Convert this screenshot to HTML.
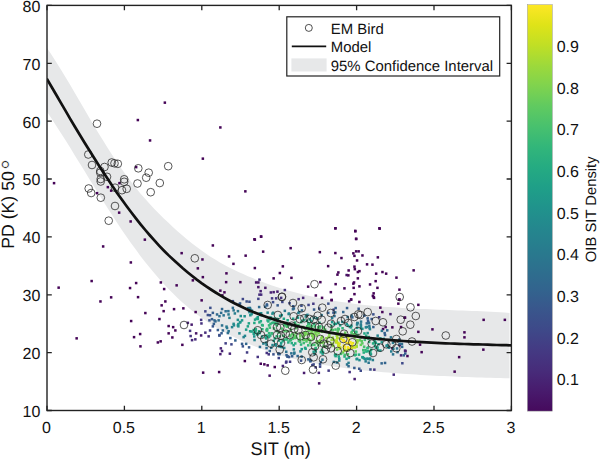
<!DOCTYPE html>
<html><head><meta charset="utf-8"><title>PD vs SIT</title>
<style>
html,body{margin:0;padding:0;background:#fff}
svg{display:block}
text{font-family:"Liberation Sans",Arial,sans-serif;fill:#111;text-rendering:geometricPrecision}
.tk{font-size:16px}
.cb{font-size:16px}
.lg{font-size:14.9px}
.ax{font-size:18.2px}
</style></head><body>
<svg width="600" height="459" viewBox="0 0 600 459">
<defs><linearGradient id="vg" x1="0" y1="0" x2="0" y2="1"><stop offset="0.000" stop-color="#fde725"/><stop offset="0.050" stop-color="#dfe318"/><stop offset="0.100" stop-color="#c0df25"/><stop offset="0.150" stop-color="#9dd93b"/><stop offset="0.200" stop-color="#7fd34e"/><stop offset="0.250" stop-color="#60ca60"/><stop offset="0.300" stop-color="#48c16e"/><stop offset="0.350" stop-color="#32b67a"/><stop offset="0.400" stop-color="#25ab82"/><stop offset="0.450" stop-color="#1f9f88"/><stop offset="0.500" stop-color="#20938c"/><stop offset="0.550" stop-color="#24878e"/><stop offset="0.600" stop-color="#287c8e"/><stop offset="0.650" stop-color="#2d708e"/><stop offset="0.700" stop-color="#32648e"/><stop offset="0.750" stop-color="#39568c"/><stop offset="0.800" stop-color="#3e4989"/><stop offset="0.850" stop-color="#443a83"/><stop offset="0.900" stop-color="#472c7a"/><stop offset="0.950" stop-color="#481b6d"/><stop offset="1.000" stop-color="#460a5d"/></linearGradient>
<clipPath id="cp"><rect x="47.0" y="5.4" width="464.4" height="405.1"/></clipPath></defs>
<rect width="600" height="459" fill="#fff"/>
<g clip-path="url(#cp)">
<path d="M47.0,47.9 L51.7,54.9 L56.3,62.2 L61.0,69.7 L65.7,77.4 L70.4,85.3 L75.0,93.2 L79.7,101.3 L84.4,109.3 L89.0,117.3 L93.7,125.2 L98.4,133.0 L103.1,140.6 L107.7,148.1 L112.4,155.3 L117.1,162.3 L121.7,169.0 L126.4,175.5 L131.1,181.7 L135.8,187.7 L140.4,193.4 L145.1,198.8 L149.8,204.0 L154.4,208.9 L159.1,213.7 L163.8,218.4 L168.5,222.8 L173.1,227.2 L177.8,231.4 L182.5,235.5 L187.2,239.4 L191.8,243.2 L196.5,246.8 L201.2,250.3 L205.8,253.6 L210.5,256.7 L215.2,259.6 L219.9,262.4 L224.5,265.0 L229.2,267.4 L233.9,269.8 L238.5,272.0 L243.2,274.1 L247.9,276.2 L252.6,278.1 L257.2,280.0 L261.9,281.8 L266.6,283.6 L271.2,285.2 L275.9,286.8 L280.6,288.3 L285.3,289.7 L289.9,291.0 L294.6,292.3 L299.3,293.6 L303.9,294.7 L308.6,295.8 L313.3,296.8 L318.0,297.8 L322.6,298.8 L327.3,299.6 L332.0,300.5 L336.6,301.2 L341.3,301.9 L346.0,302.6 L350.7,303.3 L355.3,303.9 L360.0,304.4 L364.7,304.9 L369.3,305.4 L374.0,305.9 L378.7,306.3 L383.4,306.7 L388.0,307.0 L392.7,307.3 L397.4,307.6 L402.1,307.9 L406.7,308.2 L411.4,308.4 L416.1,308.7 L420.7,308.9 L425.4,309.1 L430.1,309.3 L434.8,309.5 L439.4,309.7 L444.1,309.8 L448.8,310.0 L453.4,310.2 L458.1,310.4 L462.8,310.5 L467.5,310.7 L472.1,310.9 L476.8,311.1 L481.5,311.3 L486.1,311.5 L490.8,311.8 L495.5,312.0 L500.2,312.3 L504.8,312.6 L509.5,312.9 L509.5,378.3 L504.8,378.2 L500.2,378.1 L495.5,377.9 L490.8,377.8 L486.1,377.7 L481.5,377.5 L476.8,377.4 L472.1,377.2 L467.5,377.0 L462.8,376.9 L458.1,376.7 L453.4,376.5 L448.8,376.3 L444.1,376.1 L439.4,375.9 L434.8,375.7 L430.1,375.4 L425.4,375.2 L420.7,374.9 L416.1,374.6 L411.4,374.3 L406.7,374.0 L402.1,373.7 L397.4,373.3 L392.7,373.0 L388.0,372.6 L383.4,372.2 L378.7,371.8 L374.0,371.3 L369.3,370.9 L364.7,370.4 L360.0,369.9 L355.3,369.4 L350.7,368.8 L346.0,368.3 L341.3,367.6 L336.6,367.0 L332.0,366.3 L327.3,365.6 L322.6,364.8 L318.0,363.9 L313.3,363.1 L308.6,362.1 L303.9,361.1 L299.3,360.1 L294.6,358.9 L289.9,357.7 L285.3,356.5 L280.6,355.2 L275.9,353.7 L271.2,352.3 L266.6,350.7 L261.9,349.0 L257.2,347.3 L252.6,345.4 L247.9,343.5 L243.2,341.5 L238.5,339.3 L233.9,337.1 L229.2,334.7 L224.5,332.3 L219.9,329.6 L215.2,326.9 L210.5,323.9 L205.8,320.8 L201.2,317.6 L196.5,314.1 L191.8,310.4 L187.2,306.6 L182.5,302.5 L177.8,298.2 L173.1,293.6 L168.5,288.9 L163.8,283.9 L159.1,278.7 L154.4,273.3 L149.8,267.7 L145.1,261.9 L140.4,255.9 L135.8,249.6 L131.1,243.2 L126.4,236.6 L121.7,229.7 L117.1,222.7 L112.4,215.6 L107.7,208.3 L103.1,201.0 L98.4,193.5 L93.7,186.0 L89.0,178.4 L84.4,170.8 L79.7,163.2 L75.0,155.7 L70.4,148.1 L65.7,140.6 L61.0,133.2 L56.3,125.9 L51.7,118.7 L47.0,111.7Z" fill="#e7e8e9"/>
<g><rect x="136.6" y="118.8" width="2.5" height="2.5" fill="#450457"/><rect x="134.9" y="165.9" width="2.5" height="2.5" fill="#450457"/><rect x="163.6" y="101.4" width="2.5" height="2.5" fill="#450457"/><rect x="219.1" y="126.2" width="2.5" height="2.5" fill="#450457"/><rect x="148.8" y="139.2" width="2.5" height="2.5" fill="#450457"/><rect x="201.6" y="157.4" width="2.5" height="2.5" fill="#450457"/><rect x="334.2" y="227.0" width="2.5" height="2.5" fill="#450457"/><rect x="354.0" y="229.6" width="2.5" height="2.5" fill="#450457"/><rect x="378.2" y="227.0" width="2.5" height="2.5" fill="#450457"/><rect x="354.9" y="237.5" width="2.5" height="2.5" fill="#450457"/><rect x="259.8" y="235.3" width="2.5" height="2.5" fill="#450457"/><rect x="253.2" y="238.0" width="2.5" height="2.5" fill="#450457"/><rect x="52.8" y="181.9" width="2.5" height="2.5" fill="#450457"/><rect x="106.6" y="185.9" width="2.5" height="2.5" fill="#450457"/><rect x="109.9" y="189.4" width="2.5" height="2.5" fill="#450457"/><rect x="95.8" y="191.9" width="2.5" height="2.5" fill="#450457"/><rect x="118.2" y="181.9" width="2.5" height="2.5" fill="#450457"/><rect x="117.9" y="211.4" width="2.5" height="2.5" fill="#450457"/><rect x="129.4" y="220.2" width="2.5" height="2.5" fill="#450457"/><rect x="143.6" y="238.4" width="2.5" height="2.5" fill="#450457"/><rect x="101.9" y="245.2" width="2.5" height="2.5" fill="#450457"/><rect x="244.1" y="190.1" width="2.5" height="2.5" fill="#450457"/><rect x="211.6" y="244.2" width="2.5" height="2.5" fill="#450457"/><rect x="129.6" y="261.2" width="2.5" height="2.5" fill="#450457"/><rect x="90.4" y="279.8" width="2.5" height="2.5" fill="#450457"/><rect x="57.4" y="286.4" width="2.5" height="2.5" fill="#450457"/><rect x="134.9" y="281.8" width="2.5" height="2.5" fill="#450457"/><rect x="128.8" y="286.8" width="2.5" height="2.5" fill="#450457"/><rect x="109.9" y="296.1" width="2.5" height="2.5" fill="#450457"/><rect x="99.2" y="300.2" width="2.5" height="2.5" fill="#450457"/><rect x="136.8" y="295.9" width="2.5" height="2.5" fill="#450457"/><rect x="144.1" y="311.8" width="2.5" height="2.5" fill="#450457"/><rect x="129.9" y="319.8" width="2.5" height="2.5" fill="#450457"/><rect x="180.4" y="251.9" width="2.5" height="2.5" fill="#450457"/><rect x="201.2" y="258.2" width="2.5" height="2.5" fill="#450457"/><rect x="196.6" y="267.1" width="2.5" height="2.5" fill="#450457"/><rect x="201.6" y="275.9" width="2.5" height="2.5" fill="#450457"/><rect x="191.6" y="279.1" width="2.5" height="2.5" fill="#450457"/><rect x="175.4" y="284.1" width="2.5" height="2.5" fill="#450457"/><rect x="159.6" y="281.2" width="2.5" height="2.5" fill="#450457"/><rect x="162.9" y="287.8" width="2.5" height="2.5" fill="#450457"/><rect x="164.1" y="300.2" width="2.5" height="2.5" fill="#450457"/><rect x="160.4" y="304.1" width="2.5" height="2.5" fill="#450457"/><rect x="162.4" y="309.9" width="2.5" height="2.5" fill="#450457"/><rect x="172.8" y="307.9" width="2.5" height="2.5" fill="#450457"/><rect x="182.1" y="307.1" width="2.5" height="2.5" fill="#450457"/><rect x="194.4" y="310.8" width="2.5" height="2.5" fill="#450457"/><rect x="200.4" y="299.1" width="2.5" height="2.5" fill="#450457"/><rect x="158.2" y="317.8" width="2.5" height="2.5" fill="#450457"/><rect x="227.8" y="255.2" width="2.5" height="2.5" fill="#450457"/><rect x="244.4" y="254.4" width="2.5" height="2.5" fill="#450457"/><rect x="232.2" y="262.6" width="2.5" height="2.5" fill="#450457"/><rect x="225.2" y="272.1" width="2.5" height="2.5" fill="#450457"/><rect x="224.9" y="280.9" width="2.5" height="2.5" fill="#450457"/><rect x="239.1" y="280.9" width="2.5" height="2.5" fill="#450457"/><rect x="219.1" y="289.4" width="2.5" height="2.5" fill="#450457"/><rect x="223.2" y="291.1" width="2.5" height="2.5" fill="#450457"/><rect x="221.1" y="294.1" width="2.5" height="2.5" fill="#450457"/><rect x="75.4" y="337.1" width="2.5" height="2.5" fill="#450457"/><rect x="132.8" y="335.9" width="2.5" height="2.5" fill="#450457"/><rect x="138.9" y="332.8" width="2.5" height="2.5" fill="#450457"/><rect x="139.2" y="345.1" width="2.5" height="2.5" fill="#450457"/><rect x="167.4" y="324.8" width="2.5" height="2.5" fill="#450457"/><rect x="171.9" y="325.9" width="2.5" height="2.5" fill="#450457"/><rect x="174.1" y="329.2" width="2.5" height="2.5" fill="#450457"/><rect x="167.4" y="332.1" width="2.5" height="2.5" fill="#450457"/><rect x="171.1" y="336.2" width="2.5" height="2.5" fill="#450457"/><rect x="159.4" y="340.1" width="2.5" height="2.5" fill="#450457"/><rect x="156.6" y="341.2" width="2.5" height="2.5" fill="#450457"/><rect x="181.1" y="343.6" width="2.5" height="2.5" fill="#450457"/><rect x="201.9" y="371.4" width="2.5" height="2.5" fill="#450457"/><rect x="217.9" y="370.8" width="2.5" height="2.5" fill="#450457"/><rect x="243.6" y="359.8" width="2.5" height="2.5" fill="#450457"/><rect x="334.1" y="227.1" width="2.5" height="2.5" fill="#450457"/><rect x="259.9" y="235.4" width="2.5" height="2.5" fill="#450457"/><rect x="253.6" y="238.4" width="2.5" height="2.5" fill="#450457"/><rect x="289.4" y="246.9" width="2.5" height="2.5" fill="#450457"/><rect x="261.9" y="250.4" width="2.5" height="2.5" fill="#450457"/><rect x="318.6" y="250.9" width="2.5" height="2.5" fill="#450457"/><rect x="334.1" y="251.8" width="2.5" height="2.5" fill="#450457"/><rect x="340.2" y="256.8" width="2.5" height="2.5" fill="#450457"/><rect x="253.6" y="266.8" width="2.5" height="2.5" fill="#450457"/><rect x="281.6" y="265.1" width="2.5" height="2.5" fill="#450457"/><rect x="326.9" y="264.9" width="2.5" height="2.5" fill="#450457"/><rect x="278.6" y="271.8" width="2.5" height="2.5" fill="#450457"/><rect x="272.4" y="277.1" width="2.5" height="2.5" fill="#450457"/><rect x="290.2" y="276.6" width="2.5" height="2.5" fill="#450457"/><rect x="337.1" y="271.2" width="2.5" height="2.5" fill="#450457"/><rect x="336.2" y="273.4" width="2.5" height="2.5" fill="#450457"/><rect x="319.1" y="280.9" width="2.5" height="2.5" fill="#450457"/><rect x="306.9" y="285.4" width="2.5" height="2.5" fill="#450457"/><rect x="334.4" y="282.9" width="2.5" height="2.5" fill="#450457"/><rect x="343.2" y="287.1" width="2.5" height="2.5" fill="#450457"/><rect x="329.6" y="290.9" width="2.5" height="2.5" fill="#450457"/><rect x="314.6" y="294.2" width="2.5" height="2.5" fill="#450457"/><rect x="320.8" y="296.6" width="2.5" height="2.5" fill="#450457"/><rect x="330.4" y="298.8" width="2.5" height="2.5" fill="#450457"/><rect x="378.4" y="227.4" width="2.5" height="2.5" fill="#450457"/><rect x="354.1" y="230.1" width="2.5" height="2.5" fill="#450457"/><rect x="354.9" y="237.8" width="2.5" height="2.5" fill="#450457"/><rect x="354.9" y="250.1" width="2.5" height="2.5" fill="#450457"/><rect x="357.4" y="250.1" width="2.5" height="2.5" fill="#450457"/><rect x="352.1" y="252.1" width="2.5" height="2.5" fill="#450457"/><rect x="353.2" y="254.6" width="2.5" height="2.5" fill="#450457"/><rect x="361.2" y="254.2" width="2.5" height="2.5" fill="#450457"/><rect x="376.6" y="256.1" width="2.5" height="2.5" fill="#450457"/><rect x="355.8" y="259.2" width="2.5" height="2.5" fill="#450457"/><rect x="365.8" y="263.1" width="2.5" height="2.5" fill="#450457"/><rect x="371.2" y="263.4" width="2.5" height="2.5" fill="#450457"/><rect x="353.2" y="265.4" width="2.5" height="2.5" fill="#450457"/><rect x="353.6" y="267.9" width="2.5" height="2.5" fill="#450457"/><rect x="347.4" y="269.2" width="2.5" height="2.5" fill="#450457"/><rect x="358.2" y="269.9" width="2.5" height="2.5" fill="#450457"/><rect x="356.6" y="270.8" width="2.5" height="2.5" fill="#450457"/><rect x="347.1" y="274.1" width="2.5" height="2.5" fill="#450457"/><rect x="374.9" y="272.4" width="2.5" height="2.5" fill="#450457"/><rect x="381.2" y="270.8" width="2.5" height="2.5" fill="#450457"/><rect x="384.9" y="272.4" width="2.5" height="2.5" fill="#450457"/><rect x="412.4" y="269.1" width="2.5" height="2.5" fill="#450457"/><rect x="395.2" y="276.4" width="2.5" height="2.5" fill="#450457"/><rect x="356.6" y="277.1" width="2.5" height="2.5" fill="#450457"/><rect x="374.4" y="279.9" width="2.5" height="2.5" fill="#450457"/><rect x="352.8" y="281.2" width="2.5" height="2.5" fill="#450457"/><rect x="352.1" y="282.4" width="2.5" height="2.5" fill="#450457"/><rect x="368.8" y="283.2" width="2.5" height="2.5" fill="#450457"/><rect x="358.2" y="285.1" width="2.5" height="2.5" fill="#450457"/><rect x="352.4" y="286.6" width="2.5" height="2.5" fill="#450457"/><rect x="376.2" y="286.6" width="2.5" height="2.5" fill="#450457"/><rect x="398.2" y="288.4" width="2.5" height="2.5" fill="#450457"/><rect x="353.2" y="292.9" width="2.5" height="2.5" fill="#450457"/><rect x="372.4" y="292.1" width="2.5" height="2.5" fill="#450457"/><rect x="371.6" y="294.6" width="2.5" height="2.5" fill="#450457"/><rect x="372.8" y="296.6" width="2.5" height="2.5" fill="#450457"/><rect x="349.9" y="298.2" width="2.5" height="2.5" fill="#450457"/><rect x="398.2" y="298.2" width="2.5" height="2.5" fill="#450457"/><rect x="349.8" y="298.4" width="2.5" height="2.5" fill="#450457"/><rect x="358.1" y="300.7" width="2.5" height="2.5" fill="#450457"/><rect x="330.4" y="298.8" width="2.5" height="2.5" fill="#450457"/><rect x="372.4" y="295.8" width="2.5" height="2.5" fill="#450457"/><rect x="379.1" y="306.4" width="2.5" height="2.5" fill="#450457"/><rect x="381.1" y="310.8" width="2.5" height="2.5" fill="#450457"/><rect x="397.1" y="302.4" width="2.5" height="2.5" fill="#450457"/><rect x="397.8" y="298.4" width="2.5" height="2.5" fill="#450457"/><rect x="403.8" y="316.4" width="2.5" height="2.5" fill="#450457"/><rect x="399.8" y="325.8" width="2.5" height="2.5" fill="#450457"/><rect x="391.1" y="326.1" width="2.5" height="2.5" fill="#450457"/><rect x="384.4" y="325.8" width="2.5" height="2.5" fill="#450457"/><rect x="381.8" y="327.8" width="2.5" height="2.5" fill="#450457"/><rect x="398.4" y="343.8" width="2.5" height="2.5" fill="#450457"/><rect x="391.1" y="347.1" width="2.5" height="2.5" fill="#450457"/><rect x="259.5" y="362.5" width="2.5" height="2.5" fill="#450457"/><rect x="263.1" y="363.1" width="2.5" height="2.5" fill="#450457"/><rect x="266.4" y="364.1" width="2.5" height="2.5" fill="#450457"/><rect x="273.5" y="365.8" width="2.5" height="2.5" fill="#450457"/><rect x="417.1" y="303.6" width="2.5" height="2.5" fill="#450457"/><rect x="403.4" y="316.4" width="2.5" height="2.5" fill="#450457"/><rect x="417.1" y="330.6" width="2.5" height="2.5" fill="#450457"/><rect x="431.2" y="328.1" width="2.5" height="2.5" fill="#450457"/><rect x="463.2" y="331.1" width="2.5" height="2.5" fill="#450457"/><rect x="463.2" y="336.1" width="2.5" height="2.5" fill="#450457"/><rect x="482.4" y="318.6" width="2.5" height="2.5" fill="#450457"/><rect x="482.1" y="348.4" width="2.5" height="2.5" fill="#450457"/><rect x="418.8" y="343.4" width="2.5" height="2.5" fill="#450457"/><rect x="420.4" y="350.9" width="2.5" height="2.5" fill="#450457"/><rect x="404.2" y="349.8" width="2.5" height="2.5" fill="#450457"/><rect x="406.2" y="354.8" width="2.5" height="2.5" fill="#450457"/><rect x="457.9" y="355.9" width="2.5" height="2.5" fill="#450457"/><rect x="503.6" y="318.6" width="2.5" height="2.5" fill="#450457"/><rect x="453.4" y="370.4" width="2.5" height="2.5" fill="#450457"/><rect x="345.4" y="273.8" width="2.5" height="2.5" fill="#471365"/><rect x="254.9" y="281.2" width="2.5" height="2.5" fill="#471365"/><rect x="257.1" y="281.2" width="2.5" height="2.5" fill="#471365"/><rect x="317.9" y="382.1" width="2.5" height="2.5" fill="#471365"/><rect x="268.4" y="374.4" width="2.5" height="2.5" fill="#471365"/><rect x="264.1" y="286.6" width="2.5" height="2.5" fill="#481668"/><rect x="257.1" y="285.9" width="2.5" height="2.5" fill="#481668"/><rect x="194.9" y="332.1" width="2.5" height="2.5" fill="#481668"/><rect x="347.9" y="300.0" width="2.5" height="2.5" fill="#481769"/><rect x="302.8" y="371.7" width="2.5" height="2.5" fill="#481b6d"/><rect x="276.2" y="290.4" width="2.5" height="2.5" fill="#481c6e"/><rect x="190.4" y="323.4" width="2.5" height="2.5" fill="#481c6e"/><rect x="199.9" y="334.2" width="2.5" height="2.5" fill="#481d6f"/><rect x="219.1" y="352.9" width="2.5" height="2.5" fill="#481d6f"/><rect x="353.4" y="377.8" width="2.5" height="2.5" fill="#481d6f"/><rect x="272.4" y="290.9" width="2.5" height="2.5" fill="#481f70"/><rect x="259.4" y="289.9" width="2.5" height="2.5" fill="#482071"/><rect x="269.6" y="291.2" width="2.5" height="2.5" fill="#482173"/><rect x="389.2" y="312.9" width="2.5" height="2.5" fill="#482173"/><rect x="186.6" y="321.6" width="2.5" height="2.5" fill="#482475"/><rect x="219.6" y="347.1" width="2.5" height="2.5" fill="#482475"/><rect x="220.8" y="349.8" width="2.5" height="2.5" fill="#482475"/><rect x="228.6" y="352.4" width="2.5" height="2.5" fill="#482475"/><rect x="399.8" y="354.1" width="2.5" height="2.5" fill="#482475"/><rect x="403.8" y="349.4" width="2.5" height="2.5" fill="#482475"/><rect x="398.4" y="343.8" width="2.5" height="2.5" fill="#482475"/><rect x="281.6" y="364.7" width="2.5" height="2.5" fill="#482576"/><rect x="317.6" y="371.6" width="2.5" height="2.5" fill="#482677"/><rect x="301.9" y="296.6" width="2.5" height="2.5" fill="#482677"/><rect x="392.5" y="373.4" width="2.5" height="2.5" fill="#472a7a"/><rect x="190.8" y="338.9" width="2.5" height="2.5" fill="#472a7a"/><rect x="194.1" y="338.1" width="2.5" height="2.5" fill="#472a7a"/><rect x="259.9" y="293.4" width="2.5" height="2.5" fill="#472d7b"/><rect x="204.1" y="331.4" width="2.5" height="2.5" fill="#472d7b"/><rect x="258.2" y="293.4" width="2.5" height="2.5" fill="#472d7b"/><rect x="207.4" y="335.1" width="2.5" height="2.5" fill="#472e7c"/><rect x="297.4" y="297.9" width="2.5" height="2.5" fill="#472f7d"/><rect x="279.9" y="296.6" width="2.5" height="2.5" fill="#46327e"/><rect x="200.2" y="322.2" width="2.5" height="2.5" fill="#46327e"/><rect x="188.8" y="329.6" width="2.5" height="2.5" fill="#463480"/><rect x="189.4" y="334.8" width="2.5" height="2.5" fill="#463480"/><rect x="258.2" y="278.4" width="2.5" height="2.5" fill="#463480"/><rect x="283.6" y="288.8" width="2.5" height="2.5" fill="#463480"/><rect x="265.5" y="351.7" width="2.5" height="2.5" fill="#463480"/><rect x="267.5" y="353.1" width="2.5" height="2.5" fill="#463480"/><rect x="348.4" y="370.8" width="2.5" height="2.5" fill="#463480"/><rect x="373.1" y="368.4" width="2.5" height="2.5" fill="#463480"/><rect x="256.5" y="355.7" width="2.5" height="2.5" fill="#463480"/><rect x="199.9" y="318.6" width="2.5" height="2.5" fill="#453581"/><rect x="284.8" y="361.3" width="2.5" height="2.5" fill="#453781"/><rect x="274.9" y="297.1" width="2.5" height="2.5" fill="#453781"/><rect x="270.8" y="297.1" width="2.5" height="2.5" fill="#453882"/><rect x="312.1" y="302.5" width="2.5" height="2.5" fill="#443983"/><rect x="377.9" y="316.0" width="2.5" height="2.5" fill="#443a83"/><rect x="327.4" y="369.4" width="2.5" height="2.5" fill="#443a83"/><rect x="285.1" y="360.4" width="2.5" height="2.5" fill="#443a83"/><rect x="314.4" y="366.1" width="2.5" height="2.5" fill="#433d84"/><rect x="245.8" y="351.2" width="2.5" height="2.5" fill="#433d84"/><rect x="288.8" y="360.5" width="2.5" height="2.5" fill="#433e85"/><rect x="257.1" y="297.6" width="2.5" height="2.5" fill="#424086"/><rect x="224.4" y="342.1" width="2.5" height="2.5" fill="#424186"/><rect x="208.8" y="329.2" width="2.5" height="2.5" fill="#414287"/><rect x="204.1" y="310.1" width="2.5" height="2.5" fill="#414487"/><rect x="307.3" y="303.7" width="2.5" height="2.5" fill="#404588"/><rect x="311.1" y="363.8" width="2.5" height="2.5" fill="#404588"/><rect x="332.4" y="308.4" width="2.5" height="2.5" fill="#404688"/><rect x="318.8" y="365.4" width="2.5" height="2.5" fill="#404688"/><rect x="241.6" y="297.8" width="2.5" height="2.5" fill="#404688"/><rect x="277.5" y="356.8" width="2.5" height="2.5" fill="#404688"/><rect x="281.1" y="300.7" width="2.5" height="2.5" fill="#404688"/><rect x="230.2" y="343.1" width="2.5" height="2.5" fill="#3f4889"/><rect x="288.3" y="302.0" width="2.5" height="2.5" fill="#3f4889"/><rect x="401.1" y="362.0" width="2.5" height="2.5" fill="#3e4989"/><rect x="312.4" y="363.2" width="2.5" height="2.5" fill="#3e4a89"/><rect x="359.5" y="369.5" width="2.5" height="2.5" fill="#3e4a89"/><rect x="271.8" y="300.9" width="2.5" height="2.5" fill="#3e4c8a"/><rect x="231.6" y="299.9" width="2.5" height="2.5" fill="#3d4e8a"/><rect x="206.6" y="313.8" width="2.5" height="2.5" fill="#3d4e8a"/><rect x="318.0" y="307.3" width="2.5" height="2.5" fill="#3d4e8a"/><rect x="209.1" y="306.6" width="2.5" height="2.5" fill="#3c4f8a"/><rect x="369.2" y="368.2" width="2.5" height="2.5" fill="#3c4f8a"/><rect x="218.1" y="334.3" width="2.5" height="2.5" fill="#3c508b"/><rect x="300.2" y="304.5" width="2.5" height="2.5" fill="#3c508b"/><rect x="299.8" y="359.4" width="2.5" height="2.5" fill="#3c508b"/><rect x="327.1" y="302.4" width="2.5" height="2.5" fill="#3b528b"/><rect x="372.1" y="313.1" width="2.5" height="2.5" fill="#3b528b"/><rect x="218.2" y="333.8" width="2.5" height="2.5" fill="#3b528b"/><rect x="245.4" y="300.2" width="2.5" height="2.5" fill="#3b528b"/><rect x="248.2" y="300.5" width="2.5" height="2.5" fill="#3b528b"/><rect x="208.2" y="319.1" width="2.5" height="2.5" fill="#3b528b"/><rect x="241.6" y="345.1" width="2.5" height="2.5" fill="#3a538b"/><rect x="272.2" y="353.1" width="2.5" height="2.5" fill="#3a538b"/><rect x="318.8" y="363.0" width="2.5" height="2.5" fill="#3a538b"/><rect x="208.8" y="314.0" width="2.5" height="2.5" fill="#39558c"/><rect x="211.6" y="325.1" width="2.5" height="2.5" fill="#39568c"/><rect x="358.0" y="367.5" width="2.5" height="2.5" fill="#39568c"/><rect x="287.8" y="355.8" width="2.5" height="2.5" fill="#39568c"/><rect x="286.4" y="355.4" width="2.5" height="2.5" fill="#38588c"/><rect x="292.0" y="305.0" width="2.5" height="2.5" fill="#38588c"/><rect x="332.2" y="311.4" width="2.5" height="2.5" fill="#38588c"/><rect x="309.1" y="360.1" width="2.5" height="2.5" fill="#38598c"/><rect x="286.3" y="355.2" width="2.5" height="2.5" fill="#38598c"/><rect x="247.8" y="346.1" width="2.5" height="2.5" fill="#38598c"/><rect x="312.8" y="308.3" width="2.5" height="2.5" fill="#375a8c"/><rect x="357.4" y="307.5" width="2.5" height="2.5" fill="#375a8c"/><rect x="370.4" y="317.8" width="2.5" height="2.5" fill="#375a8c"/><rect x="238.8" y="302.2" width="2.5" height="2.5" fill="#375b8d"/><rect x="265.6" y="303.2" width="2.5" height="2.5" fill="#375b8d"/><rect x="276.4" y="304.1" width="2.5" height="2.5" fill="#375b8d"/><rect x="277.1" y="352.8" width="2.5" height="2.5" fill="#365c8d"/><rect x="353.1" y="366.7" width="2.5" height="2.5" fill="#365c8d"/><rect x="278.3" y="352.9" width="2.5" height="2.5" fill="#365c8d"/><rect x="366.8" y="319.5" width="2.5" height="2.5" fill="#365c8d"/><rect x="210.7" y="317.9" width="2.5" height="2.5" fill="#365d8d"/><rect x="216.6" y="328.8" width="2.5" height="2.5" fill="#365d8d"/><rect x="220.3" y="332.0" width="2.5" height="2.5" fill="#365d8d"/><rect x="211.6" y="311.6" width="2.5" height="2.5" fill="#365d8d"/><rect x="240.8" y="342.6" width="2.5" height="2.5" fill="#355e8d"/><rect x="309.7" y="359.3" width="2.5" height="2.5" fill="#355e8d"/><rect x="351.1" y="316.1" width="2.5" height="2.5" fill="#355e8d"/><rect x="402.5" y="354.1" width="2.5" height="2.5" fill="#355e8d"/><rect x="404.0" y="352.3" width="2.5" height="2.5" fill="#355f8d"/><rect x="212.6" y="322.6" width="2.5" height="2.5" fill="#355f8d"/><rect x="277.4" y="352.2" width="2.5" height="2.5" fill="#355f8d"/><rect x="285.3" y="353.9" width="2.5" height="2.5" fill="#355f8d"/><rect x="238.2" y="303.2" width="2.5" height="2.5" fill="#355f8d"/><rect x="334.4" y="306.8" width="2.5" height="2.5" fill="#355f8d"/><rect x="345.8" y="306.8" width="2.5" height="2.5" fill="#355f8d"/><rect x="363.1" y="314.4" width="2.5" height="2.5" fill="#355f8d"/><rect x="366.4" y="317.1" width="2.5" height="2.5" fill="#355f8d"/><rect x="372.1" y="325.8" width="2.5" height="2.5" fill="#355f8d"/><rect x="383.4" y="331.8" width="2.5" height="2.5" fill="#355f8d"/><rect x="383.8" y="333.8" width="2.5" height="2.5" fill="#355f8d"/><rect x="327.0" y="311.6" width="2.5" height="2.5" fill="#355f8d"/><rect x="290.9" y="355.0" width="2.5" height="2.5" fill="#355f8d"/><rect x="265.8" y="304.1" width="2.5" height="2.5" fill="#34608d"/><rect x="234.1" y="339.2" width="2.5" height="2.5" fill="#34608d"/><rect x="229.1" y="336.8" width="2.5" height="2.5" fill="#34608d"/><rect x="308.9" y="358.7" width="2.5" height="2.5" fill="#34618d"/><rect x="268.5" y="349.8" width="2.5" height="2.5" fill="#33628d"/><rect x="307.1" y="358.1" width="2.5" height="2.5" fill="#33628d"/><rect x="319.6" y="360.8" width="2.5" height="2.5" fill="#33628d"/><rect x="383.8" y="361.7" width="2.5" height="2.5" fill="#33638d"/><rect x="220.8" y="307.8" width="2.5" height="2.5" fill="#32648e"/><rect x="213.2" y="319.1" width="2.5" height="2.5" fill="#32658e"/><rect x="292.6" y="307.2" width="2.5" height="2.5" fill="#32658e"/><rect x="380.4" y="362.1" width="2.5" height="2.5" fill="#32658e"/><rect x="244.9" y="342.6" width="2.5" height="2.5" fill="#31668e"/><rect x="214.2" y="320.1" width="2.5" height="2.5" fill="#31678e"/><rect x="342.0" y="310.8" width="2.5" height="2.5" fill="#31678e"/><rect x="367.4" y="321.6" width="2.5" height="2.5" fill="#31678e"/><rect x="386.0" y="329.1" width="2.5" height="2.5" fill="#31678e"/><rect x="296.4" y="354.8" width="2.5" height="2.5" fill="#31688e"/><rect x="263.9" y="305.5" width="2.5" height="2.5" fill="#31688e"/><rect x="347.3" y="365.0" width="2.5" height="2.5" fill="#31688e"/><rect x="221.6" y="329.2" width="2.5" height="2.5" fill="#31688e"/><rect x="215.8" y="313.2" width="2.5" height="2.5" fill="#30698e"/><rect x="300.4" y="355.4" width="2.5" height="2.5" fill="#30698e"/><rect x="231.6" y="306.6" width="2.5" height="2.5" fill="#306a8e"/><rect x="291.7" y="308.0" width="2.5" height="2.5" fill="#306a8e"/><rect x="258.7" y="345.7" width="2.5" height="2.5" fill="#2f6b8e"/><rect x="398.1" y="338.3" width="2.5" height="2.5" fill="#2f6b8e"/><rect x="400.7" y="342.7" width="2.5" height="2.5" fill="#2f6b8e"/><rect x="257.9" y="305.8" width="2.5" height="2.5" fill="#2f6b8e"/><rect x="400.9" y="345.6" width="2.5" height="2.5" fill="#2f6b8e"/><rect x="300.7" y="309.2" width="2.5" height="2.5" fill="#2f6b8e"/><rect x="333.2" y="314.8" width="2.5" height="2.5" fill="#2f6c8e"/><rect x="334.0" y="311.1" width="2.5" height="2.5" fill="#2f6c8e"/><rect x="350.4" y="314.4" width="2.5" height="2.5" fill="#2f6c8e"/><rect x="365.5" y="322.1" width="2.5" height="2.5" fill="#2f6c8e"/><rect x="367.8" y="321.8" width="2.5" height="2.5" fill="#2f6c8e"/><rect x="219.9" y="311.6" width="2.5" height="2.5" fill="#2e6d8e"/><rect x="226.6" y="331.8" width="2.5" height="2.5" fill="#2e6d8e"/><rect x="265.3" y="346.8" width="2.5" height="2.5" fill="#2e6e8e"/><rect x="224.4" y="310.0" width="2.5" height="2.5" fill="#2e6e8e"/><rect x="217.4" y="319.1" width="2.5" height="2.5" fill="#2e6e8e"/><rect x="218.2" y="314.9" width="2.5" height="2.5" fill="#2e6f8e"/><rect x="398.4" y="342.5" width="2.5" height="2.5" fill="#2d708e"/><rect x="290.1" y="352.1" width="2.5" height="2.5" fill="#2d708e"/><rect x="396.3" y="350.9" width="2.5" height="2.5" fill="#2d708e"/><rect x="220.8" y="324.2" width="2.5" height="2.5" fill="#2d718e"/><rect x="227.1" y="309.9" width="2.5" height="2.5" fill="#2d718e"/><rect x="292.9" y="352.4" width="2.5" height="2.5" fill="#2c718e"/><rect x="248.6" y="306.7" width="2.5" height="2.5" fill="#2c718e"/><rect x="285.0" y="350.5" width="2.5" height="2.5" fill="#2c728e"/><rect x="246.9" y="306.9" width="2.5" height="2.5" fill="#2c728e"/><rect x="346.4" y="315.8" width="2.5" height="2.5" fill="#2c738e"/><rect x="232.4" y="309.1" width="2.5" height="2.5" fill="#2c738e"/><rect x="321.2" y="358.4" width="2.5" height="2.5" fill="#2c738e"/><rect x="227.4" y="330.0" width="2.5" height="2.5" fill="#2c738e"/><rect x="391.8" y="353.1" width="2.5" height="2.5" fill="#2c738e"/><rect x="247.2" y="307.1" width="2.5" height="2.5" fill="#2c738e"/><rect x="345.8" y="363.2" width="2.5" height="2.5" fill="#2c738e"/><rect x="222.4" y="314.1" width="2.5" height="2.5" fill="#2c738e"/><rect x="320.4" y="313.9" width="2.5" height="2.5" fill="#2b748e"/><rect x="332.6" y="360.7" width="2.5" height="2.5" fill="#2b748e"/><rect x="367.4" y="361.5" width="2.5" height="2.5" fill="#2b748e"/><rect x="380.6" y="329.6" width="2.5" height="2.5" fill="#2b748e"/><rect x="395.8" y="347.2" width="2.5" height="2.5" fill="#2b758e"/><rect x="335.6" y="361.3" width="2.5" height="2.5" fill="#2b758e"/><rect x="248.8" y="307.5" width="2.5" height="2.5" fill="#2b758e"/><rect x="270.0" y="346.5" width="2.5" height="2.5" fill="#2a768e"/><rect x="389.7" y="336.1" width="2.5" height="2.5" fill="#2a768e"/><rect x="368.1" y="324.7" width="2.5" height="2.5" fill="#2a768e"/><rect x="283.6" y="309.6" width="2.5" height="2.5" fill="#2a778e"/><rect x="293.1" y="351.4" width="2.5" height="2.5" fill="#2a778e"/><rect x="225.8" y="326.8" width="2.5" height="2.5" fill="#2a778e"/><rect x="356.4" y="321.8" width="2.5" height="2.5" fill="#2a788e"/><rect x="359.8" y="320.4" width="2.5" height="2.5" fill="#2a788e"/><rect x="298.0" y="310.9" width="2.5" height="2.5" fill="#2a788e"/><rect x="356.1" y="321.8" width="2.5" height="2.5" fill="#29798e"/><rect x="225.3" y="325.4" width="2.5" height="2.5" fill="#29798e"/><rect x="227.3" y="313.2" width="2.5" height="2.5" fill="#29798e"/><rect x="236.7" y="309.9" width="2.5" height="2.5" fill="#297a8e"/><rect x="249.1" y="308.6" width="2.5" height="2.5" fill="#297b8e"/><rect x="359.6" y="323.1" width="2.5" height="2.5" fill="#297b8e"/><rect x="330.9" y="316.8" width="2.5" height="2.5" fill="#287c8e"/><rect x="392.1" y="347.5" width="2.5" height="2.5" fill="#287c8e"/><rect x="391.7" y="341.6" width="2.5" height="2.5" fill="#287c8e"/><rect x="390.0" y="350.2" width="2.5" height="2.5" fill="#287d8e"/><rect x="297.1" y="311.7" width="2.5" height="2.5" fill="#277e8e"/><rect x="250.7" y="309.4" width="2.5" height="2.5" fill="#277e8e"/><rect x="347.3" y="361.6" width="2.5" height="2.5" fill="#277e8e"/><rect x="364.4" y="360.1" width="2.5" height="2.5" fill="#277e8e"/><rect x="233.6" y="312.2" width="2.5" height="2.5" fill="#277f8e"/><rect x="371.6" y="358.8" width="2.5" height="2.5" fill="#277f8e"/><rect x="242.4" y="335.9" width="2.5" height="2.5" fill="#277f8e"/><rect x="247.8" y="309.6" width="2.5" height="2.5" fill="#27808e"/><rect x="265.3" y="343.5" width="2.5" height="2.5" fill="#27808e"/><rect x="365.5" y="325.7" width="2.5" height="2.5" fill="#27808e"/><rect x="228.2" y="316.6" width="2.5" height="2.5" fill="#26818e"/><rect x="368.3" y="326.7" width="2.5" height="2.5" fill="#26818e"/><rect x="306.2" y="313.6" width="2.5" height="2.5" fill="#26818e"/><rect x="262.1" y="342.3" width="2.5" height="2.5" fill="#26818e"/><rect x="355.8" y="323.3" width="2.5" height="2.5" fill="#26828e"/><rect x="359.7" y="324.5" width="2.5" height="2.5" fill="#26828e"/><rect x="230.8" y="325.9" width="2.5" height="2.5" fill="#25838e"/><rect x="364.6" y="326.1" width="2.5" height="2.5" fill="#25838e"/><rect x="376.4" y="334.4" width="2.5" height="2.5" fill="#25848e"/><rect x="238.2" y="332.1" width="2.5" height="2.5" fill="#25848e"/><rect x="253.3" y="338.8" width="2.5" height="2.5" fill="#25858e"/><rect x="248.2" y="310.9" width="2.5" height="2.5" fill="#25858e"/><rect x="305.3" y="314.1" width="2.5" height="2.5" fill="#25858e"/><rect x="338.0" y="359.3" width="2.5" height="2.5" fill="#25858e"/><rect x="287.7" y="312.3" width="2.5" height="2.5" fill="#25858e"/><rect x="387.9" y="346.5" width="2.5" height="2.5" fill="#25858e"/><rect x="368.8" y="358.0" width="2.5" height="2.5" fill="#24868e"/><rect x="283.0" y="346.7" width="2.5" height="2.5" fill="#24868e"/><rect x="271.9" y="311.5" width="2.5" height="2.5" fill="#24868e"/><rect x="271.3" y="343.8" width="2.5" height="2.5" fill="#24868e"/><rect x="368.7" y="327.9" width="2.5" height="2.5" fill="#24868e"/><rect x="243.7" y="334.6" width="2.5" height="2.5" fill="#24868e"/><rect x="266.4" y="311.4" width="2.5" height="2.5" fill="#24878e"/><rect x="341.1" y="320.6" width="2.5" height="2.5" fill="#24878e"/><rect x="299.2" y="350.1" width="2.5" height="2.5" fill="#23888e"/><rect x="280.6" y="345.8" width="2.5" height="2.5" fill="#23888e"/><rect x="278.1" y="345.2" width="2.5" height="2.5" fill="#23888e"/><rect x="279.8" y="345.6" width="2.5" height="2.5" fill="#23888e"/><rect x="274.6" y="344.3" width="2.5" height="2.5" fill="#23888e"/><rect x="287.5" y="312.8" width="2.5" height="2.5" fill="#23888e"/><rect x="386.6" y="345.9" width="2.5" height="2.5" fill="#23898e"/><rect x="366.9" y="357.7" width="2.5" height="2.5" fill="#23898e"/><rect x="368.8" y="357.3" width="2.5" height="2.5" fill="#23898e"/><rect x="358.2" y="358.9" width="2.5" height="2.5" fill="#23898e"/><rect x="264.7" y="341.4" width="2.5" height="2.5" fill="#23898e"/><rect x="232.7" y="324.1" width="2.5" height="2.5" fill="#238a8d"/><rect x="386.2" y="344.1" width="2.5" height="2.5" fill="#238a8d"/><rect x="259.9" y="312.0" width="2.5" height="2.5" fill="#238a8d"/><rect x="232.4" y="322.6" width="2.5" height="2.5" fill="#228b8d"/><rect x="382.5" y="337.6" width="2.5" height="2.5" fill="#228b8d"/><rect x="292.6" y="348.1" width="2.5" height="2.5" fill="#228b8d"/><rect x="258.6" y="312.2" width="2.5" height="2.5" fill="#228b8d"/><rect x="365.9" y="357.4" width="2.5" height="2.5" fill="#228b8d"/><rect x="271.2" y="312.4" width="2.5" height="2.5" fill="#228c8d"/><rect x="385.3" y="344.5" width="2.5" height="2.5" fill="#228c8d"/><rect x="363.5" y="357.6" width="2.5" height="2.5" fill="#228d8d"/><rect x="313.3" y="352.6" width="2.5" height="2.5" fill="#228d8d"/><rect x="239.5" y="314.8" width="2.5" height="2.5" fill="#228d8d"/><rect x="304.5" y="315.2" width="2.5" height="2.5" fill="#228d8d"/><rect x="315.6" y="317.0" width="2.5" height="2.5" fill="#218e8d"/><rect x="250.4" y="312.9" width="2.5" height="2.5" fill="#218e8d"/><rect x="312.7" y="316.6" width="2.5" height="2.5" fill="#218e8d"/><rect x="279.5" y="344.3" width="2.5" height="2.5" fill="#218f8d"/><rect x="274.4" y="343.0" width="2.5" height="2.5" fill="#21908d"/><rect x="366.4" y="331.8" width="2.5" height="2.5" fill="#21918c"/><rect x="236.6" y="318.6" width="2.5" height="2.5" fill="#21918c"/><rect x="236.6" y="324.2" width="2.5" height="2.5" fill="#20928c"/><rect x="280.5" y="313.9" width="2.5" height="2.5" fill="#20928c"/><rect x="359.7" y="327.0" width="2.5" height="2.5" fill="#20928c"/><rect x="237.1" y="325.1" width="2.5" height="2.5" fill="#20928c"/><rect x="345.5" y="323.0" width="2.5" height="2.5" fill="#20928c"/><rect x="249.1" y="314.0" width="2.5" height="2.5" fill="#20928c"/><rect x="243.4" y="315.0" width="2.5" height="2.5" fill="#20928c"/><rect x="379.2" y="337.1" width="2.5" height="2.5" fill="#20928c"/><rect x="337.2" y="321.4" width="2.5" height="2.5" fill="#20928c"/><rect x="362.4" y="356.8" width="2.5" height="2.5" fill="#20928c"/><rect x="355.4" y="357.9" width="2.5" height="2.5" fill="#20928c"/><rect x="259.1" y="313.7" width="2.5" height="2.5" fill="#20928c"/><rect x="361.1" y="327.6" width="2.5" height="2.5" fill="#20928c"/><rect x="350.2" y="324.4" width="2.5" height="2.5" fill="#20928c"/><rect x="260.6" y="313.9" width="2.5" height="2.5" fill="#20938c"/><rect x="237.1" y="322.8" width="2.5" height="2.5" fill="#20938c"/><rect x="355.9" y="357.6" width="2.5" height="2.5" fill="#20938c"/><rect x="253.0" y="335.2" width="2.5" height="2.5" fill="#1f948c"/><rect x="379.1" y="349.3" width="2.5" height="2.5" fill="#1f958b"/><rect x="338.0" y="357.2" width="2.5" height="2.5" fill="#1f958b"/><rect x="278.9" y="314.6" width="2.5" height="2.5" fill="#1f958b"/><rect x="238.7" y="321.2" width="2.5" height="2.5" fill="#1f968b"/><rect x="380.5" y="341.1" width="2.5" height="2.5" fill="#1f968b"/><rect x="330.9" y="320.9" width="2.5" height="2.5" fill="#1f968b"/><rect x="239.1" y="320.8" width="2.5" height="2.5" fill="#1f968b"/><rect x="355.9" y="326.6" width="2.5" height="2.5" fill="#1f978b"/><rect x="240.8" y="319.1" width="2.5" height="2.5" fill="#1f978b"/><rect x="300.5" y="347.9" width="2.5" height="2.5" fill="#1f988b"/><rect x="361.4" y="356.0" width="2.5" height="2.5" fill="#1f988b"/><rect x="377.3" y="337.6" width="2.5" height="2.5" fill="#1f988b"/><rect x="361.2" y="355.9" width="2.5" height="2.5" fill="#1f998a"/><rect x="346.8" y="324.4" width="2.5" height="2.5" fill="#1f998a"/><rect x="312.4" y="350.5" width="2.5" height="2.5" fill="#1f9a8a"/><rect x="308.6" y="318.0" width="2.5" height="2.5" fill="#1e9b8a"/><rect x="256.5" y="315.9" width="2.5" height="2.5" fill="#1e9b8a"/><rect x="376.7" y="349.1" width="2.5" height="2.5" fill="#1e9b8a"/><rect x="296.7" y="316.4" width="2.5" height="2.5" fill="#1e9b8a"/><rect x="321.4" y="352.4" width="2.5" height="2.5" fill="#1e9b8a"/><rect x="369.7" y="353.1" width="2.5" height="2.5" fill="#1e9c89"/><rect x="334.8" y="322.5" width="2.5" height="2.5" fill="#1e9c89"/><rect x="244.9" y="328.4" width="2.5" height="2.5" fill="#1e9d89"/><rect x="345.3" y="357.6" width="2.5" height="2.5" fill="#1e9d89"/><rect x="252.5" y="332.6" width="2.5" height="2.5" fill="#1e9d89"/><rect x="279.9" y="341.9" width="2.5" height="2.5" fill="#1e9d89"/><rect x="272.5" y="339.6" width="2.5" height="2.5" fill="#1f9f88"/><rect x="348.8" y="325.7" width="2.5" height="2.5" fill="#1f9f88"/><rect x="265.0" y="337.2" width="2.5" height="2.5" fill="#1f9f88"/><rect x="248.9" y="330.0" width="2.5" height="2.5" fill="#1fa088"/><rect x="349.8" y="326.1" width="2.5" height="2.5" fill="#1fa088"/><rect x="377.3" y="343.0" width="2.5" height="2.5" fill="#1fa088"/><rect x="260.9" y="335.3" width="2.5" height="2.5" fill="#1fa088"/><rect x="269.7" y="316.4" width="2.5" height="2.5" fill="#1fa188"/><rect x="255.3" y="317.4" width="2.5" height="2.5" fill="#1fa188"/><rect x="314.5" y="350.0" width="2.5" height="2.5" fill="#1fa188"/><rect x="256.3" y="333.3" width="2.5" height="2.5" fill="#1fa188"/><rect x="252.9" y="331.7" width="2.5" height="2.5" fill="#1fa188"/><rect x="334.4" y="354.9" width="2.5" height="2.5" fill="#1fa188"/><rect x="304.4" y="347.5" width="2.5" height="2.5" fill="#1fa188"/><rect x="250.4" y="330.3" width="2.5" height="2.5" fill="#1fa188"/><rect x="376.3" y="346.3" width="2.5" height="2.5" fill="#1fa188"/><rect x="268.8" y="316.5" width="2.5" height="2.5" fill="#1fa188"/><rect x="319.6" y="351.0" width="2.5" height="2.5" fill="#1fa187"/><rect x="264.4" y="336.3" width="2.5" height="2.5" fill="#1fa187"/><rect x="333.1" y="322.9" width="2.5" height="2.5" fill="#1fa187"/><rect x="255.7" y="332.6" width="2.5" height="2.5" fill="#1fa187"/><rect x="256.6" y="317.8" width="2.5" height="2.5" fill="#1fa187"/><rect x="338.9" y="324.1" width="2.5" height="2.5" fill="#1fa287"/><rect x="253.8" y="318.4" width="2.5" height="2.5" fill="#1fa287"/><rect x="291.9" y="317.5" width="2.5" height="2.5" fill="#1fa287"/><rect x="373.5" y="338.2" width="2.5" height="2.5" fill="#20a386"/><rect x="375.1" y="346.4" width="2.5" height="2.5" fill="#20a386"/><rect x="368.9" y="351.5" width="2.5" height="2.5" fill="#20a386"/><rect x="246.6" y="325.1" width="2.5" height="2.5" fill="#20a386"/><rect x="292.4" y="343.9" width="2.5" height="2.5" fill="#20a486"/><rect x="314.3" y="349.3" width="2.5" height="2.5" fill="#20a486"/><rect x="268.3" y="317.3" width="2.5" height="2.5" fill="#20a486"/><rect x="273.3" y="317.3" width="2.5" height="2.5" fill="#20a486"/><rect x="310.2" y="319.7" width="2.5" height="2.5" fill="#20a486"/><rect x="302.6" y="318.7" width="2.5" height="2.5" fill="#20a486"/><rect x="247.6" y="322.1" width="2.5" height="2.5" fill="#20a486"/><rect x="374.5" y="346.2" width="2.5" height="2.5" fill="#20a486"/><rect x="282.6" y="317.5" width="2.5" height="2.5" fill="#20a486"/><rect x="303.8" y="346.6" width="2.5" height="2.5" fill="#21a585"/><rect x="320.4" y="350.6" width="2.5" height="2.5" fill="#21a585"/><rect x="337.5" y="355.2" width="2.5" height="2.5" fill="#21a585"/><rect x="253.9" y="330.4" width="2.5" height="2.5" fill="#21a585"/><rect x="374.6" y="341.5" width="2.5" height="2.5" fill="#21a585"/><rect x="254.0" y="330.2" width="2.5" height="2.5" fill="#21a585"/><rect x="347.6" y="356.4" width="2.5" height="2.5" fill="#21a685"/><rect x="275.4" y="317.7" width="2.5" height="2.5" fill="#21a685"/><rect x="321.7" y="350.8" width="2.5" height="2.5" fill="#21a685"/><rect x="252.4" y="328.8" width="2.5" height="2.5" fill="#21a685"/><rect x="373.6" y="340.3" width="2.5" height="2.5" fill="#21a685"/><rect x="276.5" y="317.9" width="2.5" height="2.5" fill="#22a785"/><rect x="369.0" y="350.5" width="2.5" height="2.5" fill="#22a785"/><rect x="363.2" y="332.2" width="2.5" height="2.5" fill="#22a785"/><rect x="277.8" y="339.3" width="2.5" height="2.5" fill="#22a785"/><rect x="333.8" y="353.9" width="2.5" height="2.5" fill="#22a785"/><rect x="258.3" y="331.9" width="2.5" height="2.5" fill="#22a785"/><rect x="305.8" y="319.6" width="2.5" height="2.5" fill="#22a884"/><rect x="268.9" y="318.1" width="2.5" height="2.5" fill="#22a884"/><rect x="318.2" y="321.5" width="2.5" height="2.5" fill="#22a884"/><rect x="373.7" y="344.5" width="2.5" height="2.5" fill="#22a884"/><rect x="267.8" y="335.8" width="2.5" height="2.5" fill="#23a983"/><rect x="281.4" y="340.0" width="2.5" height="2.5" fill="#23a983"/><rect x="254.2" y="328.8" width="2.5" height="2.5" fill="#23a983"/><rect x="253.1" y="321.7" width="2.5" height="2.5" fill="#23a983"/><rect x="373.2" y="341.4" width="2.5" height="2.5" fill="#23a983"/><rect x="259.6" y="320.0" width="2.5" height="2.5" fill="#24aa83"/><rect x="273.6" y="337.3" width="2.5" height="2.5" fill="#24aa83"/><rect x="265.2" y="334.2" width="2.5" height="2.5" fill="#24aa83"/><rect x="254.6" y="328.0" width="2.5" height="2.5" fill="#25ab82"/><rect x="287.1" y="341.2" width="2.5" height="2.5" fill="#25ab82"/><rect x="266.3" y="319.2" width="2.5" height="2.5" fill="#25ab82"/><rect x="369.9" y="348.5" width="2.5" height="2.5" fill="#25ab82"/><rect x="257.8" y="330.0" width="2.5" height="2.5" fill="#25ac82"/><rect x="258.2" y="321.1" width="2.5" height="2.5" fill="#25ac82"/><rect x="301.1" y="319.6" width="2.5" height="2.5" fill="#25ac82"/><rect x="286.4" y="319.0" width="2.5" height="2.5" fill="#25ac82"/><rect x="367.5" y="335.8" width="2.5" height="2.5" fill="#25ac82"/><rect x="290.5" y="341.9" width="2.5" height="2.5" fill="#25ac82"/><rect x="364.9" y="334.4" width="2.5" height="2.5" fill="#26ad81"/><rect x="371.8" y="342.2" width="2.5" height="2.5" fill="#26ad81"/><rect x="267.5" y="334.5" width="2.5" height="2.5" fill="#26ad81"/><rect x="357.8" y="353.4" width="2.5" height="2.5" fill="#26ad81"/><rect x="366.7" y="349.8" width="2.5" height="2.5" fill="#27ad81"/><rect x="334.8" y="353.3" width="2.5" height="2.5" fill="#27ad81"/><rect x="365.1" y="350.3" width="2.5" height="2.5" fill="#27ad81"/><rect x="267.1" y="320.2" width="2.5" height="2.5" fill="#28ae80"/><rect x="343.3" y="355.3" width="2.5" height="2.5" fill="#28ae80"/><rect x="362.5" y="351.3" width="2.5" height="2.5" fill="#29af7f"/><rect x="294.0" y="342.2" width="2.5" height="2.5" fill="#29af7f"/><rect x="314.4" y="347.4" width="2.5" height="2.5" fill="#29af7f"/><rect x="269.0" y="334.3" width="2.5" height="2.5" fill="#29af7f"/><rect x="330.2" y="324.7" width="2.5" height="2.5" fill="#2ab07f"/><rect x="351.5" y="329.2" width="2.5" height="2.5" fill="#2ab07f"/><rect x="355.0" y="330.5" width="2.5" height="2.5" fill="#2cb17e"/><rect x="367.2" y="337.4" width="2.5" height="2.5" fill="#2cb17e"/><rect x="353.5" y="354.0" width="2.5" height="2.5" fill="#2cb17e"/><rect x="260.8" y="323.7" width="2.5" height="2.5" fill="#2cb17e"/><rect x="283.0" y="338.5" width="2.5" height="2.5" fill="#2db27d"/><rect x="299.8" y="343.3" width="2.5" height="2.5" fill="#2db27d"/><rect x="320.7" y="348.5" width="2.5" height="2.5" fill="#2db27d"/><rect x="261.1" y="328.0" width="2.5" height="2.5" fill="#2db27d"/><rect x="261.5" y="324.2" width="2.5" height="2.5" fill="#2db27d"/><rect x="341.3" y="327.0" width="2.5" height="2.5" fill="#2eb37c"/><rect x="300.0" y="320.9" width="2.5" height="2.5" fill="#2eb37c"/><rect x="272.3" y="321.3" width="2.5" height="2.5" fill="#2fb47c"/><rect x="314.5" y="346.7" width="2.5" height="2.5" fill="#2fb47c"/><rect x="354.6" y="353.4" width="2.5" height="2.5" fill="#2fb47c"/><rect x="307.3" y="322.1" width="2.5" height="2.5" fill="#2fb47c"/><rect x="270.6" y="321.7" width="2.5" height="2.5" fill="#2fb47c"/><rect x="312.9" y="322.9" width="2.5" height="2.5" fill="#2fb47c"/><rect x="267.8" y="331.9" width="2.5" height="2.5" fill="#31b57b"/><rect x="275.4" y="335.1" width="2.5" height="2.5" fill="#31b57b"/><rect x="273.7" y="321.7" width="2.5" height="2.5" fill="#31b57b"/><rect x="364.2" y="348.8" width="2.5" height="2.5" fill="#31b57b"/><rect x="354.8" y="331.1" width="2.5" height="2.5" fill="#32b67a"/><rect x="367.9" y="340.7" width="2.5" height="2.5" fill="#32b67a"/><rect x="288.3" y="339.2" width="2.5" height="2.5" fill="#32b67a"/><rect x="285.5" y="338.3" width="2.5" height="2.5" fill="#32b67a"/><rect x="366.2" y="347.0" width="2.5" height="2.5" fill="#32b67a"/><rect x="366.8" y="346.3" width="2.5" height="2.5" fill="#32b67a"/><rect x="354.3" y="331.0" width="2.5" height="2.5" fill="#32b67a"/><rect x="269.2" y="322.8" width="2.5" height="2.5" fill="#32b67a"/><rect x="293.7" y="321.3" width="2.5" height="2.5" fill="#32b67a"/><rect x="265.5" y="329.1" width="2.5" height="2.5" fill="#34b679"/><rect x="307.1" y="322.5" width="2.5" height="2.5" fill="#34b679"/><rect x="265.8" y="329.2" width="2.5" height="2.5" fill="#34b679"/><rect x="265.7" y="328.6" width="2.5" height="2.5" fill="#34b679"/><rect x="270.5" y="332.1" width="2.5" height="2.5" fill="#34b679"/><rect x="276.1" y="322.2" width="2.5" height="2.5" fill="#35b779"/><rect x="307.0" y="344.1" width="2.5" height="2.5" fill="#35b779"/><rect x="270.7" y="332.0" width="2.5" height="2.5" fill="#35b779"/><rect x="265.8" y="327.7" width="2.5" height="2.5" fill="#35b779"/><rect x="267.8" y="324.1" width="2.5" height="2.5" fill="#35b779"/><rect x="285.4" y="337.6" width="2.5" height="2.5" fill="#37b878"/><rect x="289.7" y="339.0" width="2.5" height="2.5" fill="#37b878"/><rect x="278.6" y="335.1" width="2.5" height="2.5" fill="#37b878"/><rect x="274.8" y="323.0" width="2.5" height="2.5" fill="#37b878"/><rect x="337.0" y="327.4" width="2.5" height="2.5" fill="#38b977"/><rect x="308.2" y="323.2" width="2.5" height="2.5" fill="#38b977"/><rect x="362.0" y="348.8" width="2.5" height="2.5" fill="#3aba76"/><rect x="268.6" y="326.4" width="2.5" height="2.5" fill="#3aba76"/><rect x="319.1" y="325.1" width="2.5" height="2.5" fill="#3dbc74"/><rect x="275.6" y="324.1" width="2.5" height="2.5" fill="#3dbc74"/><rect x="302.5" y="341.8" width="2.5" height="2.5" fill="#3dbc74"/><rect x="363.6" y="338.6" width="2.5" height="2.5" fill="#3fbc73"/><rect x="310.4" y="343.8" width="2.5" height="2.5" fill="#3fbc73"/><rect x="337.5" y="328.0" width="2.5" height="2.5" fill="#3fbc73"/><rect x="294.0" y="322.9" width="2.5" height="2.5" fill="#3fbc73"/><rect x="285.9" y="323.4" width="2.5" height="2.5" fill="#40bd72"/><rect x="272.7" y="327.2" width="2.5" height="2.5" fill="#40bd72"/><rect x="283.1" y="323.8" width="2.5" height="2.5" fill="#40bd72"/><rect x="298.9" y="340.5" width="2.5" height="2.5" fill="#40bd72"/><rect x="343.5" y="353.6" width="2.5" height="2.5" fill="#40bd72"/><rect x="282.3" y="334.5" width="2.5" height="2.5" fill="#42be71"/><rect x="283.8" y="324.1" width="2.5" height="2.5" fill="#42be71"/><rect x="322.4" y="326.2" width="2.5" height="2.5" fill="#44bf70"/><rect x="275.5" y="329.8" width="2.5" height="2.5" fill="#44bf70"/><rect x="297.6" y="339.7" width="2.5" height="2.5" fill="#44bf70"/><rect x="350.5" y="331.0" width="2.5" height="2.5" fill="#44bf70"/><rect x="277.5" y="331.2" width="2.5" height="2.5" fill="#44bf70"/><rect x="339.8" y="352.6" width="2.5" height="2.5" fill="#44bf70"/><rect x="291.8" y="323.8" width="2.5" height="2.5" fill="#44bf70"/><rect x="313.5" y="325.3" width="2.5" height="2.5" fill="#44bf70"/><rect x="310.5" y="324.9" width="2.5" height="2.5" fill="#44bf70"/><rect x="287.0" y="324.1" width="2.5" height="2.5" fill="#44bf70"/><rect x="291.4" y="337.4" width="2.5" height="2.5" fill="#46c06f"/><rect x="356.2" y="333.6" width="2.5" height="2.5" fill="#46c06f"/><rect x="316.9" y="325.9" width="2.5" height="2.5" fill="#46c06f"/><rect x="297.2" y="323.8" width="2.5" height="2.5" fill="#46c06f"/><rect x="362.9" y="345.5" width="2.5" height="2.5" fill="#48c16e"/><rect x="334.3" y="328.3" width="2.5" height="2.5" fill="#48c16e"/><rect x="313.1" y="343.5" width="2.5" height="2.5" fill="#48c16e"/><rect x="295.3" y="324.3" width="2.5" height="2.5" fill="#4ac16d"/><rect x="306.0" y="325.0" width="2.5" height="2.5" fill="#4ac16d"/><rect x="359.4" y="336.2" width="2.5" height="2.5" fill="#4ac16d"/><rect x="285.7" y="325.5" width="2.5" height="2.5" fill="#4cc26c"/><rect x="280.6" y="327.4" width="2.5" height="2.5" fill="#4cc26c"/><rect x="317.4" y="326.6" width="2.5" height="2.5" fill="#4ec36b"/><rect x="317.0" y="344.1" width="2.5" height="2.5" fill="#4ec36b"/><rect x="318.3" y="326.8" width="2.5" height="2.5" fill="#4ec36b"/><rect x="346.6" y="353.1" width="2.5" height="2.5" fill="#4ec36b"/><rect x="289.1" y="335.1" width="2.5" height="2.5" fill="#4ec36b"/><rect x="293.6" y="336.8" width="2.5" height="2.5" fill="#50c46a"/><rect x="292.9" y="336.4" width="2.5" height="2.5" fill="#50c46a"/><rect x="330.0" y="328.4" width="2.5" height="2.5" fill="#50c46a"/><rect x="308.1" y="325.9" width="2.5" height="2.5" fill="#50c46a"/><rect x="308.8" y="341.4" width="2.5" height="2.5" fill="#52c569"/><rect x="331.7" y="328.8" width="2.5" height="2.5" fill="#52c569"/><rect x="283.4" y="330.0" width="2.5" height="2.5" fill="#52c569"/><rect x="350.4" y="331.8" width="2.5" height="2.5" fill="#52c569"/><rect x="288.8" y="334.2" width="2.5" height="2.5" fill="#52c569"/><rect x="305.2" y="340.2" width="2.5" height="2.5" fill="#52c569"/><rect x="353.1" y="333.0" width="2.5" height="2.5" fill="#54c568"/><rect x="295.2" y="325.6" width="2.5" height="2.5" fill="#54c568"/><rect x="298.6" y="338.1" width="2.5" height="2.5" fill="#54c568"/><rect x="352.9" y="333.0" width="2.5" height="2.5" fill="#54c568"/><rect x="301.6" y="325.7" width="2.5" height="2.5" fill="#54c568"/><rect x="336.6" y="329.7" width="2.5" height="2.5" fill="#56c667"/><rect x="323.9" y="345.4" width="2.5" height="2.5" fill="#56c667"/><rect x="295.1" y="336.4" width="2.5" height="2.5" fill="#56c667"/><rect x="294.1" y="335.9" width="2.5" height="2.5" fill="#56c667"/><rect x="286.1" y="329.9" width="2.5" height="2.5" fill="#56c667"/><rect x="302.1" y="338.8" width="2.5" height="2.5" fill="#56c667"/><rect x="322.5" y="328.2" width="2.5" height="2.5" fill="#58c765"/><rect x="302.1" y="326.1" width="2.5" height="2.5" fill="#58c765"/><rect x="323.9" y="328.4" width="2.5" height="2.5" fill="#58c765"/><rect x="322.3" y="344.5" width="2.5" height="2.5" fill="#58c765"/><rect x="295.1" y="326.8" width="2.5" height="2.5" fill="#5ac864"/><rect x="289.5" y="328.5" width="2.5" height="2.5" fill="#5ac864"/><rect x="310.7" y="327.3" width="2.5" height="2.5" fill="#5ac864"/><rect x="360.5" y="339.9" width="2.5" height="2.5" fill="#5cc863"/><rect x="361.1" y="342.1" width="2.5" height="2.5" fill="#5cc863"/><rect x="302.5" y="338.2" width="2.5" height="2.5" fill="#5cc863"/><rect x="302.9" y="338.3" width="2.5" height="2.5" fill="#5cc863"/><rect x="291.0" y="332.8" width="2.5" height="2.5" fill="#5cc863"/><rect x="292.7" y="333.9" width="2.5" height="2.5" fill="#5cc863"/><rect x="354.5" y="350.2" width="2.5" height="2.5" fill="#5ec962"/><rect x="294.6" y="334.6" width="2.5" height="2.5" fill="#5ec962"/><rect x="305.3" y="338.6" width="2.5" height="2.5" fill="#5ec962"/><rect x="315.8" y="341.8" width="2.5" height="2.5" fill="#60ca60"/><rect x="304.2" y="327.5" width="2.5" height="2.5" fill="#60ca60"/><rect x="309.0" y="339.0" width="2.5" height="2.5" fill="#65cb5e"/><rect x="306.5" y="338.2" width="2.5" height="2.5" fill="#65cb5e"/><rect x="322.2" y="329.7" width="2.5" height="2.5" fill="#67cc5c"/><rect x="294.7" y="331.6" width="2.5" height="2.5" fill="#67cc5c"/><rect x="299.0" y="335.2" width="2.5" height="2.5" fill="#67cc5c"/><rect x="358.6" y="339.0" width="2.5" height="2.5" fill="#67cc5c"/><rect x="307.5" y="338.0" width="2.5" height="2.5" fill="#69cd5b"/><rect x="359.6" y="343.6" width="2.5" height="2.5" fill="#69cd5b"/><rect x="309.6" y="329.2" width="2.5" height="2.5" fill="#69cd5b"/><rect x="344.0" y="331.5" width="2.5" height="2.5" fill="#69cd5b"/><rect x="341.7" y="351.2" width="2.5" height="2.5" fill="#6ccd5a"/><rect x="317.6" y="340.9" width="2.5" height="2.5" fill="#6ccd5a"/><rect x="307.3" y="329.5" width="2.5" height="2.5" fill="#6ccd5a"/><rect x="319.3" y="341.4" width="2.5" height="2.5" fill="#6ccd5a"/><rect x="315.3" y="340.1" width="2.5" height="2.5" fill="#6ccd5a"/><rect x="302.2" y="335.2" width="2.5" height="2.5" fill="#6ccd5a"/><rect x="299.0" y="333.3" width="2.5" height="2.5" fill="#6ece58"/><rect x="320.7" y="330.5" width="2.5" height="2.5" fill="#6ece58"/><rect x="320.5" y="341.4" width="2.5" height="2.5" fill="#70cf57"/><rect x="311.1" y="330.3" width="2.5" height="2.5" fill="#70cf57"/><rect x="314.2" y="330.5" width="2.5" height="2.5" fill="#70cf57"/><rect x="317.2" y="340.1" width="2.5" height="2.5" fill="#70cf57"/><rect x="353.5" y="335.1" width="2.5" height="2.5" fill="#70cf57"/><rect x="315.5" y="330.7" width="2.5" height="2.5" fill="#70cf57"/><rect x="304.8" y="330.9" width="2.5" height="2.5" fill="#70cf57"/><rect x="302.5" y="331.6" width="2.5" height="2.5" fill="#73d056"/><rect x="336.3" y="331.9" width="2.5" height="2.5" fill="#73d056"/><rect x="303.9" y="333.6" width="2.5" height="2.5" fill="#73d056"/><rect x="304.3" y="332.3" width="2.5" height="2.5" fill="#73d056"/><rect x="312.2" y="337.3" width="2.5" height="2.5" fill="#75d054"/><rect x="311.7" y="337.1" width="2.5" height="2.5" fill="#75d054"/><rect x="306.7" y="332.9" width="2.5" height="2.5" fill="#77d153"/><rect x="322.2" y="341.1" width="2.5" height="2.5" fill="#77d153"/><rect x="351.5" y="334.5" width="2.5" height="2.5" fill="#77d153"/><rect x="309.6" y="332.4" width="2.5" height="2.5" fill="#77d153"/><rect x="335.8" y="348.3" width="2.5" height="2.5" fill="#77d153"/><rect x="310.5" y="332.7" width="2.5" height="2.5" fill="#7ad151"/><rect x="317.4" y="332.1" width="2.5" height="2.5" fill="#7ad151"/><rect x="311.6" y="332.9" width="2.5" height="2.5" fill="#7ad151"/><rect x="310.9" y="334.5" width="2.5" height="2.5" fill="#7ad151"/><rect x="312.0" y="335.5" width="2.5" height="2.5" fill="#7ad151"/><rect x="314.2" y="332.7" width="2.5" height="2.5" fill="#7ad151"/><rect x="319.0" y="338.9" width="2.5" height="2.5" fill="#7cd250"/><rect x="315.4" y="334.2" width="2.5" height="2.5" fill="#7fd34e"/><rect x="328.1" y="333.2" width="2.5" height="2.5" fill="#81d34d"/><rect x="353.7" y="336.3" width="2.5" height="2.5" fill="#81d34d"/><rect x="320.2" y="337.0" width="2.5" height="2.5" fill="#84d44b"/><rect x="320.7" y="335.7" width="2.5" height="2.5" fill="#86d549"/><rect x="325.9" y="340.5" width="2.5" height="2.5" fill="#86d549"/><rect x="356.1" y="339.0" width="2.5" height="2.5" fill="#86d549"/><rect x="331.9" y="344.7" width="2.5" height="2.5" fill="#89d548"/><rect x="338.1" y="333.4" width="2.5" height="2.5" fill="#8bd646"/><rect x="356.3" y="339.9" width="2.5" height="2.5" fill="#8bd646"/><rect x="325.1" y="337.0" width="2.5" height="2.5" fill="#8ed645"/><rect x="331.4" y="343.7" width="2.5" height="2.5" fill="#8ed645"/><rect x="327.7" y="335.7" width="2.5" height="2.5" fill="#90d743"/><rect x="327.6" y="335.9" width="2.5" height="2.5" fill="#90d743"/><rect x="330.6" y="342.4" width="2.5" height="2.5" fill="#93d741"/><rect x="335.5" y="334.4" width="2.5" height="2.5" fill="#95d840"/><rect x="355.5" y="345.4" width="2.5" height="2.5" fill="#95d840"/><rect x="355.9" y="341.4" width="2.5" height="2.5" fill="#9bd93c"/><rect x="331.5" y="336.4" width="2.5" height="2.5" fill="#9bd93c"/><rect x="330.4" y="338.7" width="2.5" height="2.5" fill="#9dd93b"/><rect x="355.4" y="344.3" width="2.5" height="2.5" fill="#a0da39"/><rect x="342.7" y="349.4" width="2.5" height="2.5" fill="#a0da39"/><rect x="338.5" y="347.3" width="2.5" height="2.5" fill="#a8db34"/><rect x="333.1" y="338.7" width="2.5" height="2.5" fill="#aadc32"/><rect x="345.9" y="349.3" width="2.5" height="2.5" fill="#addc30"/><rect x="336.3" y="336.5" width="2.5" height="2.5" fill="#b0dd2f"/><rect x="336.1" y="337.1" width="2.5" height="2.5" fill="#b5de2b"/><rect x="345.4" y="335.3" width="2.5" height="2.5" fill="#b5de2b"/><rect x="346.7" y="335.6" width="2.5" height="2.5" fill="#b5de2b"/><rect x="334.6" y="341.2" width="2.5" height="2.5" fill="#bade28"/><rect x="346.9" y="335.9" width="2.5" height="2.5" fill="#bddf26"/><rect x="335.1" y="339.5" width="2.5" height="2.5" fill="#bddf26"/><rect x="341.2" y="335.8" width="2.5" height="2.5" fill="#bddf26"/><rect x="343.9" y="348.6" width="2.5" height="2.5" fill="#bddf26"/><rect x="337.4" y="345.2" width="2.5" height="2.5" fill="#bddf26"/><rect x="335.4" y="339.9" width="2.5" height="2.5" fill="#c0df25"/><rect x="339.1" y="346.3" width="2.5" height="2.5" fill="#c0df25"/><rect x="351.6" y="346.1" width="2.5" height="2.5" fill="#c5e021"/><rect x="337.8" y="344.8" width="2.5" height="2.5" fill="#c8e020"/><rect x="350.6" y="346.6" width="2.5" height="2.5" fill="#c8e020"/><rect x="336.6" y="341.6" width="2.5" height="2.5" fill="#cae11f"/><rect x="353.8" y="346.2" width="2.5" height="2.5" fill="#cae11f"/><rect x="337.1" y="343.6" width="2.5" height="2.5" fill="#cae11f"/><rect x="347.0" y="347.9" width="2.5" height="2.5" fill="#d0e11c"/><rect x="339.7" y="337.5" width="2.5" height="2.5" fill="#d2e21b"/><rect x="351.7" y="341.9" width="2.5" height="2.5" fill="#dde318"/><rect x="338.3" y="342.4" width="2.5" height="2.5" fill="#dfe318"/><rect x="350.5" y="344.7" width="2.5" height="2.5" fill="#e5e419"/><rect x="343.2" y="346.1" width="2.5" height="2.5" fill="#efe51c"/><rect x="342.1" y="338.8" width="2.5" height="2.5" fill="#f1e51d"/><rect x="349.2" y="340.9" width="2.5" height="2.5" fill="#f8e621"/><rect x="343.0" y="339.9" width="2.5" height="2.5" fill="#fde725"/><rect x="343.1" y="345.0" width="2.5" height="2.5" fill="#fde725"/><rect x="347.3" y="341.9" width="2.5" height="2.5" fill="#fde725"/><rect x="342.5" y="344.4" width="2.5" height="2.5" fill="#fde725"/><rect x="341.6" y="339.1" width="2.5" height="2.5" fill="#fde725"/><rect x="345.4" y="341.6" width="2.5" height="2.5" fill="#fde725"/><rect x="347.6" y="338.4" width="2.5" height="2.5" fill="#fde725"/><rect x="350.4" y="342.6" width="2.5" height="2.5" fill="#fde725"/><rect x="342.9" y="346.6" width="2.5" height="2.5" fill="#fde725"/><rect x="346.6" y="345.9" width="2.5" height="2.5" fill="#fde725"/><rect x="349.1" y="347.1" width="2.5" height="2.5" fill="#fde725"/></g>
<g fill="none" stroke="#222" stroke-width="0.75"><circle cx="97.0" cy="123.7" r="3.85"/><circle cx="88.3" cy="154.5" r="3.85"/><circle cx="92.0" cy="165.0" r="3.85"/><circle cx="104.5" cy="167.0" r="3.85"/><circle cx="111.7" cy="162.5" r="3.85"/><circle cx="114.5" cy="163.3" r="3.85"/><circle cx="117.8" cy="163.8" r="3.85"/><circle cx="138.3" cy="168.3" r="3.85"/><circle cx="100.3" cy="171.0" r="3.85"/><circle cx="168.2" cy="166.2" r="3.85"/><circle cx="100.3" cy="172.7" r="3.85"/><circle cx="107.0" cy="176.8" r="3.85"/><circle cx="100.7" cy="179.0" r="3.85"/><circle cx="100.7" cy="181.5" r="3.85"/><circle cx="88.7" cy="188.5" r="3.85"/><circle cx="91.2" cy="193.0" r="3.85"/><circle cx="100.8" cy="197.7" r="3.85"/><circle cx="115.0" cy="187.7" r="3.85"/><circle cx="115.0" cy="206.0" r="3.85"/><circle cx="108.7" cy="220.7" r="3.85"/><circle cx="124.2" cy="179.3" r="3.85"/><circle cx="124.2" cy="181.8" r="3.85"/><circle cx="122.0" cy="190.2" r="3.85"/><circle cx="126.7" cy="188.8" r="3.85"/><circle cx="137.5" cy="183.5" r="3.85"/><circle cx="146.2" cy="177.7" r="3.85"/><circle cx="148.7" cy="172.7" r="3.85"/><circle cx="159.8" cy="183.0" r="3.85"/><circle cx="150.7" cy="192.2" r="3.85"/><circle cx="194.8" cy="258.3" r="3.85"/><circle cx="184.0" cy="325.0" r="3.85"/><circle cx="314.5" cy="284.2" r="3.85"/><circle cx="282.0" cy="296.7" r="3.85"/><circle cx="267.7" cy="305.0" r="3.85"/><circle cx="281.9" cy="297.0" r="3.85"/><circle cx="293.0" cy="303.0" r="3.85"/><circle cx="301.7" cy="308.3" r="3.85"/><circle cx="322.3" cy="307.7" r="3.85"/><circle cx="277.9" cy="315.0" r="3.85"/><circle cx="293.7" cy="316.3" r="3.85"/><circle cx="299.7" cy="319.0" r="3.85"/><circle cx="304.3" cy="318.3" r="3.85"/><circle cx="309.7" cy="319.0" r="3.85"/><circle cx="313.7" cy="319.7" r="3.85"/><circle cx="317.7" cy="315.7" r="3.85"/><circle cx="321.7" cy="319.7" r="3.85"/><circle cx="257.7" cy="330.3" r="3.85"/><circle cx="261.0" cy="335.0" r="3.85"/><circle cx="264.3" cy="339.0" r="3.85"/><circle cx="271.0" cy="343.7" r="3.85"/><circle cx="277.0" cy="327.0" r="3.85"/><circle cx="280.3" cy="327.7" r="3.85"/><circle cx="277.0" cy="335.0" r="3.85"/><circle cx="281.0" cy="335.7" r="3.85"/><circle cx="285.7" cy="333.7" r="3.85"/><circle cx="289.7" cy="335.0" r="3.85"/><circle cx="294.3" cy="329.0" r="3.85"/><circle cx="298.3" cy="330.3" r="3.85"/><circle cx="300.3" cy="336.3" r="3.85"/><circle cx="305.7" cy="335.0" r="3.85"/><circle cx="311.0" cy="337.0" r="3.85"/><circle cx="281.0" cy="343.0" r="3.85"/><circle cx="279.7" cy="349.7" r="3.85"/><circle cx="315.0" cy="326.3" r="3.85"/><circle cx="319.0" cy="327.0" r="3.85"/><circle cx="320.3" cy="339.0" r="3.85"/><circle cx="315.0" cy="346.3" r="3.85"/><circle cx="312.3" cy="352.3" r="3.85"/><circle cx="323.7" cy="343.7" r="3.85"/><circle cx="325.7" cy="349.7" r="3.85"/><circle cx="291.7" cy="325.7" r="3.85"/><circle cx="399.7" cy="297.0" r="3.85"/><circle cx="367.7" cy="312.1" r="3.85"/><circle cx="358.3" cy="314.3" r="3.85"/><circle cx="354.3" cy="317.0" r="3.85"/><circle cx="360.3" cy="315.0" r="3.85"/><circle cx="330.7" cy="313.0" r="3.85"/><circle cx="341.0" cy="321.0" r="3.85"/><circle cx="345.0" cy="319.0" r="3.85"/><circle cx="348.3" cy="323.0" r="3.85"/><circle cx="375.7" cy="321.0" r="3.85"/><circle cx="383.0" cy="322.3" r="3.85"/><circle cx="400.7" cy="319.7" r="3.85"/><circle cx="402.7" cy="331.3" r="3.85"/><circle cx="357.9" cy="331.0" r="3.85"/><circle cx="331.0" cy="323.7" r="3.85"/><circle cx="328.3" cy="327.7" r="3.85"/><circle cx="344.1" cy="333.7" r="3.85"/><circle cx="343.3" cy="339.0" r="3.85"/><circle cx="352.3" cy="342.3" r="3.85"/><circle cx="347.0" cy="347.7" r="3.85"/><circle cx="330.3" cy="341.0" r="3.85"/><circle cx="327.7" cy="345.0" r="3.85"/><circle cx="331.0" cy="348.3" r="3.85"/><circle cx="337.7" cy="351.0" r="3.85"/><circle cx="350.3" cy="353.0" r="3.85"/><circle cx="371.7" cy="343.7" r="3.85"/><circle cx="373.0" cy="353.0" r="3.85"/><circle cx="380.3" cy="347.7" r="3.85"/><circle cx="386.3" cy="344.3" r="3.85"/><circle cx="391.7" cy="343.7" r="3.85"/><circle cx="396.3" cy="339.0" r="3.85"/><circle cx="396.3" cy="348.3" r="3.85"/><circle cx="285.3" cy="370.7" r="3.85"/><circle cx="313.0" cy="369.6" r="3.85"/><circle cx="301.7" cy="360.0" r="3.85"/><circle cx="313.7" cy="357.3" r="3.85"/><circle cx="323.0" cy="359.3" r="3.85"/><circle cx="335.7" cy="365.6" r="3.85"/><circle cx="410.5" cy="307.3" r="3.85"/><circle cx="415.8" cy="316.0" r="3.85"/><circle cx="410.3" cy="324.7" r="3.85"/><circle cx="445.8" cy="335.5" r="3.85"/><circle cx="412.0" cy="341.5" r="3.85"/></g>
<path d="M46.8,78.6 L51.5,86.7 L56.2,94.8 L60.9,102.9 L65.6,110.9 L70.2,118.9 L74.9,126.7 L79.6,134.5 L84.3,142.2 L89.0,149.8 L93.7,157.3 L98.4,164.7 L103.1,172.0 L107.8,179.1 L112.4,186.1 L117.1,192.9 L121.8,199.5 L126.5,206.0 L131.2,212.3 L135.9,218.4 L140.6,224.3 L145.3,230.0 L150.0,235.5 L154.6,240.7 L159.3,245.8 L164.0,250.7 L168.7,255.4 L173.4,259.8 L178.1,264.1 L182.8,268.3 L187.5,272.2 L192.2,276.0 L196.8,279.6 L201.5,283.1 L206.2,286.4 L210.9,289.5 L215.6,292.5 L220.3,295.4 L225.0,298.1 L229.7,300.7 L234.4,303.2 L239.0,305.5 L243.7,307.8 L248.4,309.9 L253.1,311.9 L257.8,313.8 L262.5,315.6 L267.2,317.2 L271.9,318.8 L276.6,320.4 L281.2,321.8 L285.9,323.1 L290.6,324.4 L295.3,325.6 L300.0,326.7 L304.7,327.8 L309.4,328.8 L314.1,329.8 L318.8,330.7 L323.4,331.5 L328.1,332.3 L332.8,333.1 L337.5,333.9 L342.2,334.6 L346.9,335.3 L351.6,335.9 L356.3,336.5 L361.0,337.1 L365.6,337.6 L370.3,338.1 L375.0,338.6 L379.7,339.1 L384.4,339.5 L389.1,339.9 L393.8,340.3 L398.5,340.7 L403.2,341.0 L407.8,341.3 L412.5,341.6 L417.2,341.9 L421.9,342.2 L426.6,342.4 L431.3,342.7 L436.0,342.9 L440.7,343.1 L445.4,343.3 L450.0,343.5 L454.7,343.6 L459.4,343.8 L464.1,344.0 L468.8,344.1 L473.5,344.3 L478.2,344.4 L482.9,344.5 L487.6,344.7 L492.2,344.8 L496.9,345.0 L501.6,345.1 L506.3,345.2 L511.0,345.4" fill="none" stroke="#111" stroke-width="2.7"/>
</g>
<rect x="47.0" y="5.4" width="464.4" height="405.1" fill="none" stroke="#222" stroke-width="1.4"/>
<path d="M47.0,410.5 v-4.8 M47.0,5.4 v4.8 M124.4,410.5 v-4.8 M124.4,5.4 v4.8 M201.8,410.5 v-4.8 M201.8,5.4 v4.8 M279.2,410.5 v-4.8 M279.2,5.4 v4.8 M356.6,410.5 v-4.8 M356.6,5.4 v4.8 M434.0,410.5 v-4.8 M434.0,5.4 v4.8 M511.4,410.5 v-4.8 M511.4,5.4 v4.8 M47.0,410.5 h4.8 M511.4,410.5 h-4.8 M47.0,352.6 h4.8 M511.4,352.6 h-4.8 M47.0,294.8 h4.8 M511.4,294.8 h-4.8 M47.0,236.9 h4.8 M511.4,236.9 h-4.8 M47.0,179.0 h4.8 M511.4,179.0 h-4.8 M47.0,121.1 h4.8 M511.4,121.1 h-4.8 M47.0,63.3 h4.8 M511.4,63.3 h-4.8 M47.0,5.4 h4.8 M511.4,5.4 h-4.8" stroke="#222" stroke-width="1.3" fill="none"/>
<text class="tk" x="46.5" y="433.2" text-anchor="middle">0</text><text class="tk" x="123.9" y="433.2" text-anchor="middle">0.5</text><text class="tk" x="201.3" y="433.2" text-anchor="middle">1</text><text class="tk" x="278.7" y="433.2" text-anchor="middle">1.5</text><text class="tk" x="356.1" y="433.2" text-anchor="middle">2</text><text class="tk" x="433.5" y="433.2" text-anchor="middle">2.5</text><text class="tk" x="510.9" y="433.2" text-anchor="middle">3</text><text class="tk" x="40.3" y="416.9" text-anchor="end">10</text><text class="tk" x="40.3" y="359.0" text-anchor="end">20</text><text class="tk" x="40.3" y="301.2" text-anchor="end">30</text><text class="tk" x="40.3" y="243.3" text-anchor="end">40</text><text class="tk" x="40.3" y="185.4" text-anchor="end">50</text><text class="tk" x="40.3" y="127.5" text-anchor="end">60</text><text class="tk" x="40.3" y="69.7" text-anchor="end">70</text><text class="tk" x="40.3" y="11.8" text-anchor="end">80</text>
<text class="ax" x="280.7" y="454.8" text-anchor="middle">SIT (m)</text>
<text class="ax" style="font-size:17.7px" transform="translate(13.9,248.8) rotate(-90)">PD (K) 50<tspan font-size="24.5px" dy="-0.7" dx="-1.2" stroke="#fff" stroke-width="0.55">∘</tspan></text>
<rect x="286.8" y="16.8" width="212.9" height="59.2" fill="#fff" stroke="#222" stroke-width="1.2"/>
<circle cx="308.8" cy="27.9" r="3.5" fill="none" stroke="#222" stroke-width="0.8"/><path d="M291.8,46.4 H326.2" stroke="#111" stroke-width="1.8"/><rect x="291.4" y="58.4" width="35.2" height="13.1" fill="#e7e8e9"/>
<text class="lg" x="330.8" y="33.8">EM Bird</text><text class="lg" x="330.8" y="52.3">Model</text><text class="lg" x="330.8" y="70.8">95% Confidence Interval</text>
<rect x="527.4" y="4.7" width="24.899999999999977" height="406.40000000000003" fill="url(#vg)" stroke="#999" stroke-width="0.5"/>
<text class="cb" x="556.7" y="385.3">0.1</text><text class="cb" x="556.7" y="343.6">0.2</text><text class="cb" x="556.7" y="302.0">0.3</text><text class="cb" x="556.7" y="260.3">0.4</text><text class="cb" x="556.7" y="218.7">0.5</text><text class="cb" x="556.7" y="177.1">0.6</text><text class="cb" x="556.7" y="135.4">0.7</text><text class="cb" x="556.7" y="93.8">0.8</text><text class="cb" x="556.7" y="52.1">0.9</text>
<text transform="translate(596.2,209.3) rotate(-90)" text-anchor="middle" font-size="14.8px">OIB SIT Density</text>
</svg></body></html>
